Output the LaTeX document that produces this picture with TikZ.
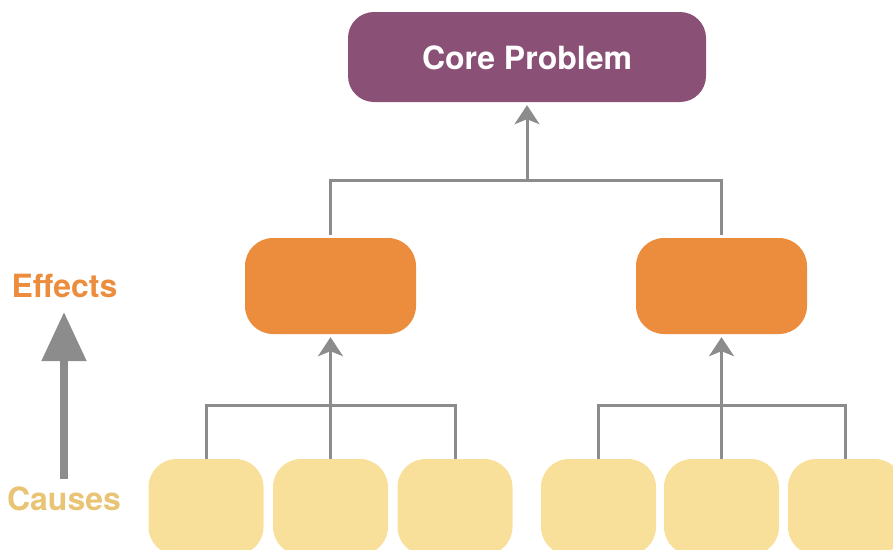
\documentclass[tikz,border=0pt]{standalone}
\usepackage{fontspec}
\setmainfont{TeX Gyre Heros}
\usetikzlibrary{arrows.meta}
\definecolor{corepurple}{HTML}{8A5075}
\definecolor{efforange}{HTML}{EC8D3E}
\definecolor{causeyellow}{HTML}{F9E09A}
\definecolor{causetext}{HTML}{E8C474}
\definecolor{conngray}{HTML}{8C8C8C}
\tikzset{
  box/.style={rectangle, rounded corners=28pt, inner sep=0pt},
  corebox/.style={box, fill=corepurple, minimum width=358pt, minimum height=90pt, rounded corners=26pt, text=white},
  effbox/.style={box, fill=efforange, minimum width=171pt, minimum height=96pt},
  causebox/.style={box, fill=causeyellow, minimum width=115pt, minimum height=96pt},
  conn/.style={draw=conngray, line width=3pt},
  connarrow/.style={conn, -{Stealth[length=19pt,width=25pt,inset=5pt]}, shorten >=3pt},
  bigtext/.style={font=\fontsize{32}{37}\selectfont\bfseries, inner sep=0pt, anchor=base},
}
\begin{document}
\begin{tikzpicture}[x=1pt,y=-1pt]
\useasboundingbox (0,0) rectangle (893,549);
\clip (0,0) rectangle (893,549);
% nodes
\node[corebox] (core) at (527,57) {};
\node[bigtext, text=white] (coretxt) at (527,69) {Core Problem};
\node[effbox] (e1) at (330.5,286) {};
\node[effbox] (e2) at (721.5,286) {};
\node[causebox] (c1) at (206,507) {};
\node[causebox] (c2) at (330.5,507) {};
\node[causebox] (c3) at (455,507) {};
\node[causebox] (c4) at (598.5,507) {};
\node[causebox] (c5) at (721.5,507) {};
\node[causebox] (c6) at (845.5,507) {};
\node[bigtext, text=efforange] (effects) at (64.5,297) {Effects};
\node[bigtext, text=causetext] (causes) at (64,510) {Causes};
% connectors top
\coordinate (jtop) at (527,180);
\draw[conn] ([yshift=3pt]e1.north) |- (jtop) -| ([yshift=3pt]e2.north);
\draw[connarrow] (jtop) -- (core.south);
% left group
\coordinate (jl) at (330.5,405);
\draw[conn] (c1.north) |- (jl) -| (c3.north);
\draw[connarrow] (c2.north) -- (e1.south);
% right group
\coordinate (jr) at (721.5,405);
\draw[conn] (c4.north) |- (jr) -| (c6.north);
\draw[connarrow] (c5.north) -- (e2.south);
% big arrow
\coordinate (ba) at (64,479);
\coordinate (bb) at (64,312);
\draw[draw=conngray, line width=8pt, -{Triangle[length=49pt,width=43pt]}] (ba) -- (bb);
\end{tikzpicture}
\end{document}
